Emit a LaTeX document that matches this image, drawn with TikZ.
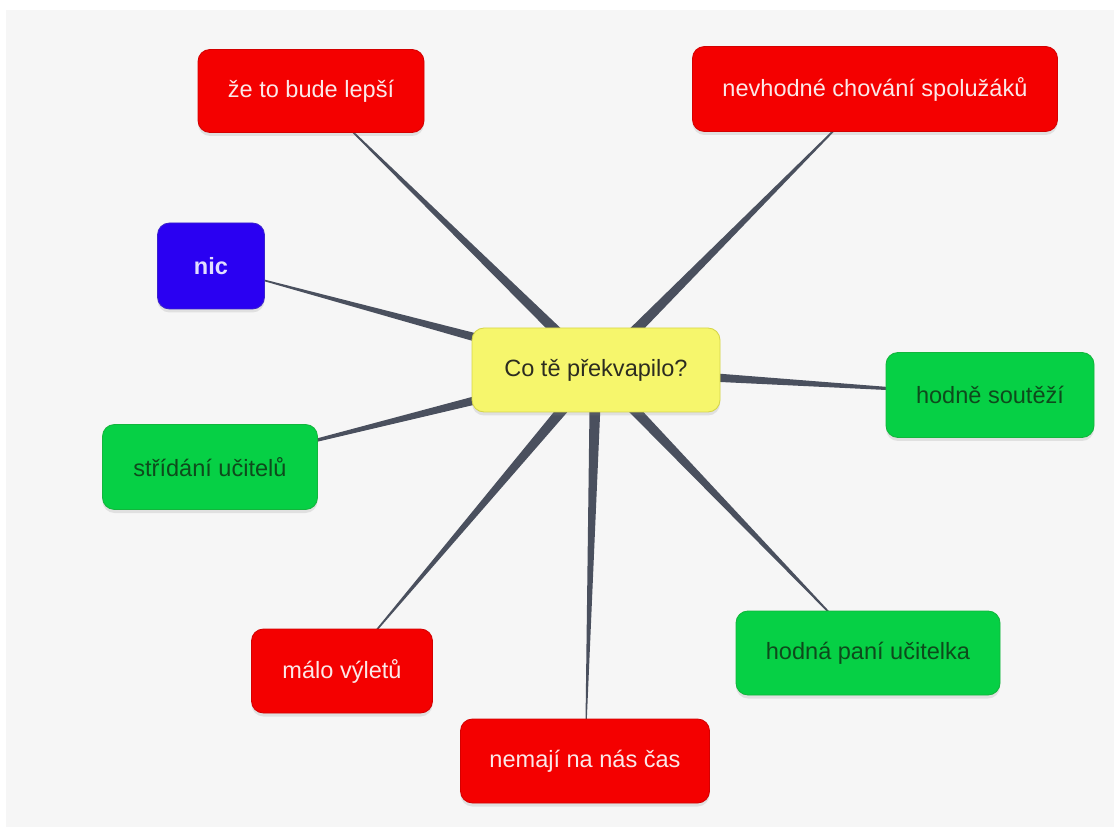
\documentclass[tikz,border=0pt]{standalone}
\usepackage{fontspec}
\setmainfont{Liberation Sans}
\usepackage{xcolor}
\usepackage{tikz}
\usetikzlibrary{calc,backgrounds,shadows}

\definecolor{redfill}{HTML}{F40000}
\definecolor{redline}{HTML}{D40000}
\definecolor{redtext}{HTML}{FBE8E8}
\definecolor{grnfill}{HTML}{06D045}
\definecolor{grnline}{HTML}{12B63C}
\definecolor{grntext}{HTML}{0E4A1C}
\definecolor{blufill}{HTML}{2A00F2}
\definecolor{bluline}{HTML}{3A22CC}
\definecolor{blutext}{HTML}{E2DEFF}
\definecolor{yelfill}{HTML}{F6F66C}
\definecolor{yelline}{HTML}{D6D64A}
\definecolor{yeltext}{HTML}{2C2C20}
\definecolor{spoke}{HTML}{4A505E}
\definecolor{paper}{HTML}{F6F6F6}

% tapered spoke from the core to a node
\newcommand{\spoketo}[1]{\fill[spoke] ($(core)!1.2mm!90:(#1)$) -- (#1.center) -- ($(core)!1.2mm!-90:(#1)$) -- cycle;}

\begin{document}
\begin{tikzpicture}[x=0.2mm,y=-0.2mm,font=\fontsize{13.4}{15}\selectfont,
 box/.style 2 args={rounded corners=2.4mm,minimum width=#1*0.2mm,minimum height=#2*0.2mm,
  line width=0.5pt,align=center,drop shadow={shadow xshift=0pt,shadow yshift=-0.7mm,opacity=0.18}},
 bad/.style={fill=redfill,draw=redline,text=redtext},
 good/.style={fill=grnfill,draw=grnline,text=grntext},
 none/.style={fill=blufill,draw=bluline,text=blutext,font=\fontsize{13.4}{15}\selectfont\bfseries},
 q/.style={fill=yelfill,draw=yelline,text=yeltext}]
\useasboundingbox (0,0) rectangle (1114,827);
\node[box={248}{84},q] (core) at (596,370) {Co tě překvapilo?};
\node[box={226}{83},bad] (better) at (311,91) {že to bude lepší};
\node[box={365}{85},bad] (mates) at (875,89) {nevhodné chování spolužáků};
\node[box={107}{86},none] (nic) at (211,266) {nic};
\node[box={208}{85},good] (contests) at (990,395) {hodně soutěží};
\node[box={215}{85},good] (swap) at (210,467) {střídání učitelů};
\node[box={181}{84},bad] (trips) at (342,671) {málo výletů};
\node[box={249}{84},bad] (time) at (585,761) {nemají na nás čas};
\node[box={264}{84},good] (teacher) at (868,653) {hodná paní učitelka};
\begin{scope}[on background layer]
\fill[paper] (6,10) rectangle (1114,827);
\spoketo{better}
\spoketo{mates}
\spoketo{nic}
\spoketo{contests}
\spoketo{swap}
\spoketo{trips}
\spoketo{time}
\spoketo{teacher}
\end{scope}
\end{tikzpicture}
\end{document}
